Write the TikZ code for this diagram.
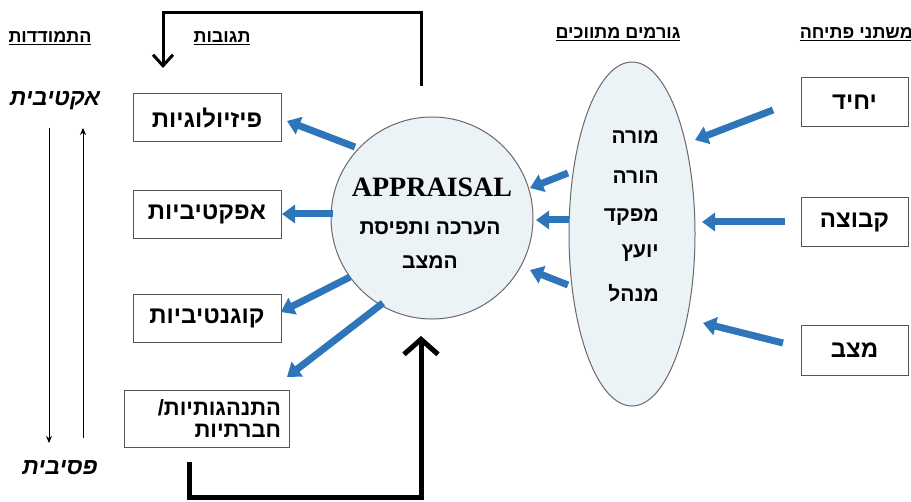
\documentclass[tikz,border=0pt]{standalone}
\usepackage{fontspec}
\setmainfont{Liberation Serif}
\newfontfamily\heb[Script=Hebrew]{Liberation Sans}
\TeXXeTstate=1
\usetikzlibrary{arrows.meta,shapes.geometric}
\newcommand{\hebtxt}[1]{\beginR #1\endR}
\definecolor{arrowblue}{RGB}{46,117,186}
\definecolor{shapefill}{RGB}{236,243,247}
\definecolor{shapeedge}{RGB}{105,105,105}
\definecolor{boxedge}{RGB}{85,85,85}
\tikzset{
  lbox/.style={draw=boxedge, line width=1bp, minimum width=148bp, minimum height=48bp, inner sep=0pt,
    font=\heb\bfseries\fontsize{24bp}{26bp}\selectfont},
  rbox/.style={draw=boxedge, line width=1bp, minimum width=107bp, minimum height=49bp, inner sep=0pt,
    font=\heb\bfseries\fontsize{24bp}{26bp}\selectfont},
  header/.style={font=\heb\bfseries\fontsize{18bp}{20bp}\selectfont, inner sep=0pt},
  pole/.style={font=\heb\bfseries\itshape\fontsize{23bp}{26bp}\selectfont, inner sep=0pt},
  medtext/.style={font=\heb\bfseries\fontsize{21bp}{24bp}\selectfont, inner sep=0pt, anchor=east},
  apptext/.style={font=\heb\bfseries\fontsize{21bp}{24bp}\selectfont, inner sep=0pt},
  barrow/.style={draw=arrowblue, line width=7bp, -{Triangle[width=18bp,length=13bp]}},
  thinarrow/.style={draw=black, line width=0.9bp, -{Stealth[length=7bp,width=6bp]}},
  fbtop/.style={draw=black, line width=3bp, -{Straight Barb[length=11bp,width=20bp]}},
  fbbottom/.style={draw=black, line width=5bp, -{Straight Barb[length=15bp,width=34bp]}},
}
\begin{document}
\begin{tikzpicture}[x=1bp,y=-1bp]
\useasboundingbox (0,0) rectangle (911,502);

% headers
\node[header] (h1) at (50,38) {\underline{\hebtxt{התמודדות}}};
\node[header] (h2) at (222,38) {\underline{\hebtxt{תגובות}}};
\node[header] (h3) at (618,34) {\underline{\hebtxt{גורמים מתווכים}}};
\node[header, anchor=east] (h4) at (913,34) {\underline{\hebtxt{משתני פתיחה}}};

% poles
\node[pole] (act) at (55,101) {\hebtxt{אקטיבית}};
\node[pole] (pas) at (60,468) {\hebtxt{פסיבית}};
\coordinate (d1) at (49,128);
\coordinate (d2) at (49,443);
\coordinate (u1) at (83,438);
\coordinate (u2) at (83,128);
\draw[thinarrow] (d1) -- (d2);
\draw[thinarrow] (u1) -- (u2);

% response boxes
\node[lbox] (phys) at (207,118) {\hebtxt{פיזיולוגיות}};
\node[lbox] (aff) at (207,214.5) {\hebtxt{אפקטיביות}};
\node[lbox] (cog) at (207,318.5) {\hebtxt{קוגנטיביות}};
\node[draw=boxedge, line width=1bp, minimum width=165bp, minimum height=57bp, inner sep=0pt,
  text width=149bp, align=right, font=\heb\bfseries\fontsize{22bp}{22bp}\selectfont] (beh) at (206.5,418.5)
  {\hebtxt{התנהגותיות/}\\\hebtxt{חברתיות}};

% appraisal circle
\node[circle, draw=shapeedge, fill=shapefill, line width=1bp, minimum size=202bp, inner sep=0pt] (app) at (432,218) {};
\node[font=\bfseries\fontsize{28bp}{30bp}\selectfont, inner sep=0pt] (appt) at (432,187) {APPRAISAL};
\node[apptext] (appl1) at (430,228) {\hebtxt{הערכה ותפיסת}};
\node[apptext] (appl2) at (430,262) {\hebtxt{המצב}};

% mediators ellipse
\node[ellipse, draw=shapeedge, fill=shapefill, line width=1bp, minimum width=126bp, minimum height=344bp, inner sep=0pt] (med) at (632,234) {};
\node[medtext] (m1) at (659,137) {\hebtxt{מורה}};
\node[medtext] (m2) at (659,177) {\hebtxt{הורה}};
\node[medtext] (m3) at (659,217) {\hebtxt{מפקד}};
\node[medtext] (m4) at (659,253) {\hebtxt{יועץ}};
\node[medtext] (m5) at (659,293) {\hebtxt{מנהל}};

% opening variables
\node[rbox] (ind) at (854.5,102.5) {\hebtxt{יחיד}};
\node[rbox] (grp) at (854.5,222.5) {\hebtxt{קבוצה}};
\node[rbox] (sit) at (854.5,350.5) {\hebtxt{מצב}};

% blue arrows: opening variables -> mediators
\coordinate (ia) at (773,110);  \coordinate (ib) at (695,140);
\coordinate (ga) at (785,222);  \coordinate (gb) at (702,222);
\coordinate (sa) at (783,343);  \coordinate (sb) at (703,323);
\draw[barrow] (ia) -- (ib);
\draw[barrow] (ga) -- (gb);
\draw[barrow] (sa) -- (sb);

% blue arrows: mediators -> appraisal
\coordinate (ma1) at (568,173); \coordinate (mb1) at (530,188);
\coordinate (ma2) at (569,220); \coordinate (mb2) at (536,220);
\coordinate (ma3) at (568,285); \coordinate (mb3) at (530,270);
\draw[barrow] (ma1) -- (mb1);
\draw[barrow] (ma2) -- (mb2);
\draw[barrow] (ma3) -- (mb3);

% blue arrows: appraisal -> responses
\coordinate (ra1) at (355,147); \coordinate (rb1) at (287,121);
\coordinate (ra2) at (333,214); \coordinate (rb2) at (282,214);
\coordinate (ra3) at (350,277); \coordinate (rb3) at (281,312);
\coordinate (ra4) at (383,303); \coordinate (rb4) at (287,377);
\draw[barrow] (ra1) -- (rb1);
\draw[barrow] (ra2) -- (rb2);
\draw[barrow] (ra3) -- (rb3);
\draw[barrow] (ra4) -- (rb4);

% feedback loops
\coordinate (ft0) at (421,86);
\coordinate (ft1) at (163,68);
\draw[fbtop] (ft0) -- (421,13) -- (163,13) -- (ft1);
\coordinate (fb0) at (189,462);
\coordinate (fb1) at (421,336);
\draw[fbbottom] (fb0) -- (189,497) -- (421,497) -- (fb1);
\end{tikzpicture}
\end{document}
